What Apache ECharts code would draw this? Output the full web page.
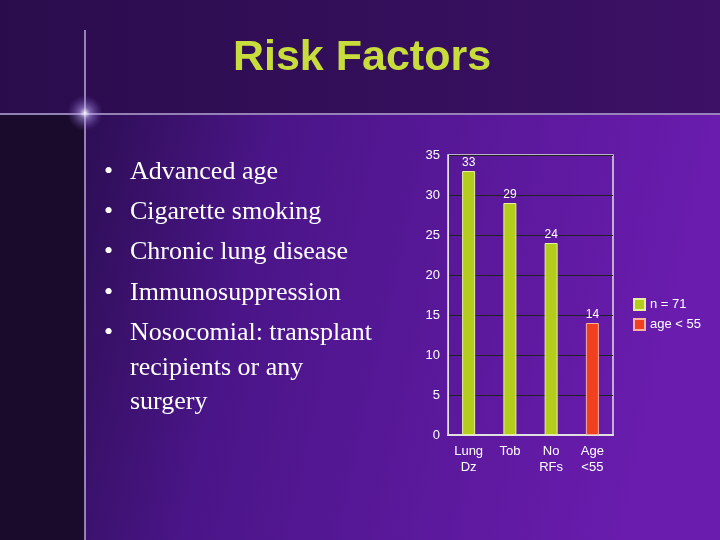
<!DOCTYPE html>
<html><head><meta charset="utf-8">
<script src="https://cdn.jsdelivr.net/npm/echarts@6/dist/echarts.min.js"></script>
<style>html,body{margin:0;padding:0;background:#2a0a4a}#c{width:720px;height:540px}</style>
</head><body><div id="c"></div>
<script>
const categories = ['Lung\nDz', 'Tob', 'No\nRFs', 'Age\n<55'];
const allValues = [33, 29, 24, null];
const youngValues = [null, null, null, 14];
const yTicks = [0, 5, 10, 15, 20, 25, 30, 35];
const bullets = ['Advanced age', 'Cigarette smoking', 'Chronic lung disease', 'Immunosuppression', 'Nosocomial: transplant'];
const continuation = ['recipients or any', 'surgery'];

const chart = echarts.init(document.getElementById('c'));
const g = [];
g.push({type:'rect', z:-10, shape:{x:0,y:0,width:720,height:540},
  style:{fill:new echarts.graphic.LinearGradient(0,0,1,0.3,[{offset:0,color:'#1c0a36'},{offset:0.4,color:'#4a1588'},{offset:1,color:'#6a1cae'}])}});
g.push({type:'rect', z:-9, shape:{x:0,y:0,width:720,height:115},
  style:{fill:new echarts.graphic.LinearGradient(0,0,1,0,[{offset:0,color:'#2a0c4c'},{offset:1,color:'#3c1166'}])}});
g.push({type:'rect', z:-9, shape:{x:0,y:115,width:85,height:425}, style:{fill:'#1a0a2c'}});
g.push({type:'line', z:-8, shape:{x1:0,y1:114,x2:720,y2:114}, style:{stroke:'#b8a8d8',lineWidth:1.5}});
g.push({type:'line', z:-8, shape:{x1:85,y1:30,x2:85,y2:540}, style:{stroke:'#b8a8d8',lineWidth:1.5}});
g.push({type:'circle', z:-7, shape:{cx:85,cy:113,r:18},
  style:{fill:new echarts.graphic.RadialGradient(0.5,0.5,0.5,[{offset:0,color:'rgba(255,255,255,0.95)'},{offset:0.3,color:'rgba(200,180,255,0.5)'},{offset:1,color:'rgba(120,80,200,0)'}])}});
g.push({type:'text', style:{text:'Risk Factors', x:362, y:58, align:'center', verticalAlign:'middle',
  font:'bold 43px Liberation Sans, Arial', fill:'#c8dc3c'}});
const ys = [172, 212, 252, 293, 333];
const F = '26px Liberation Serif';
bullets.forEach((b,i)=>{
  g.push({type:'text', style:{text:'•', x:104, y:ys[i], verticalAlign:'middle', font:F, fill:'#ffffff'}});
  g.push({type:'text', style:{text:b, x:130, y:ys[i], verticalAlign:'middle', font:F, fill:'#ffffff'}});
});
[368, 402].forEach((y,i)=>g.push({type:'text', style:{text:continuation[i], x:130, y:y, verticalAlign:'middle', font:F, fill:'#ffffff'}}));

const lbl = {show:true, position:'top', color:'#fff', fontSize:12, fontFamily:'Liberation Sans', distance:2};
chart.setOption({
  animation:false,
  graphic:g,
  grid:{left:448, top:155, width:165, height:280, show:true, borderColor:'#e0e0e0', borderWidth:1.5},
  xAxis:{type:'category', data:categories, axisTick:{show:false},
    axisLine:{lineStyle:{color:'#e0e0e0',width:2}},
    axisLabel:{color:'#fff', fontSize:13, fontFamily:'Liberation Sans', lineHeight:16, margin:8}},
  yAxis:{type:'value', min:0, max:35, interval:5,
    axisLine:{show:true, lineStyle:{color:'#e0e0e0'}},
    axisTick:{show:false},
    axisLabel:{color:'#fff', fontSize:13, fontFamily:'Liberation Sans', margin:8, formatter:v=>yTicks.includes(v)?String(v):''},
    splitLine:{lineStyle:{color:'#222'}}},
  legend:{orient:'vertical', left:628, top:293, itemWidth:11, itemHeight:11, itemGap:7, icon:'rect',
    textStyle:{color:'#fff', fontSize:13, fontFamily:'Liberation Sans'},
    data:['n = 71','age < 55']},
  series:[
    {name:'n = 71', type:'bar', stack:'s', data:allValues, barWidth:13,
      itemStyle:{color:'#b4cc1c', borderColor:'#e8f0a0', borderWidth:1}, label:lbl},
    {name:'age < 55', type:'bar', stack:'s', data:youngValues, barWidth:13,
      itemStyle:{color:'#f04020', borderColor:'#f8b0a0', borderWidth:1}, label:lbl}
  ]
});
</script></body></html>
